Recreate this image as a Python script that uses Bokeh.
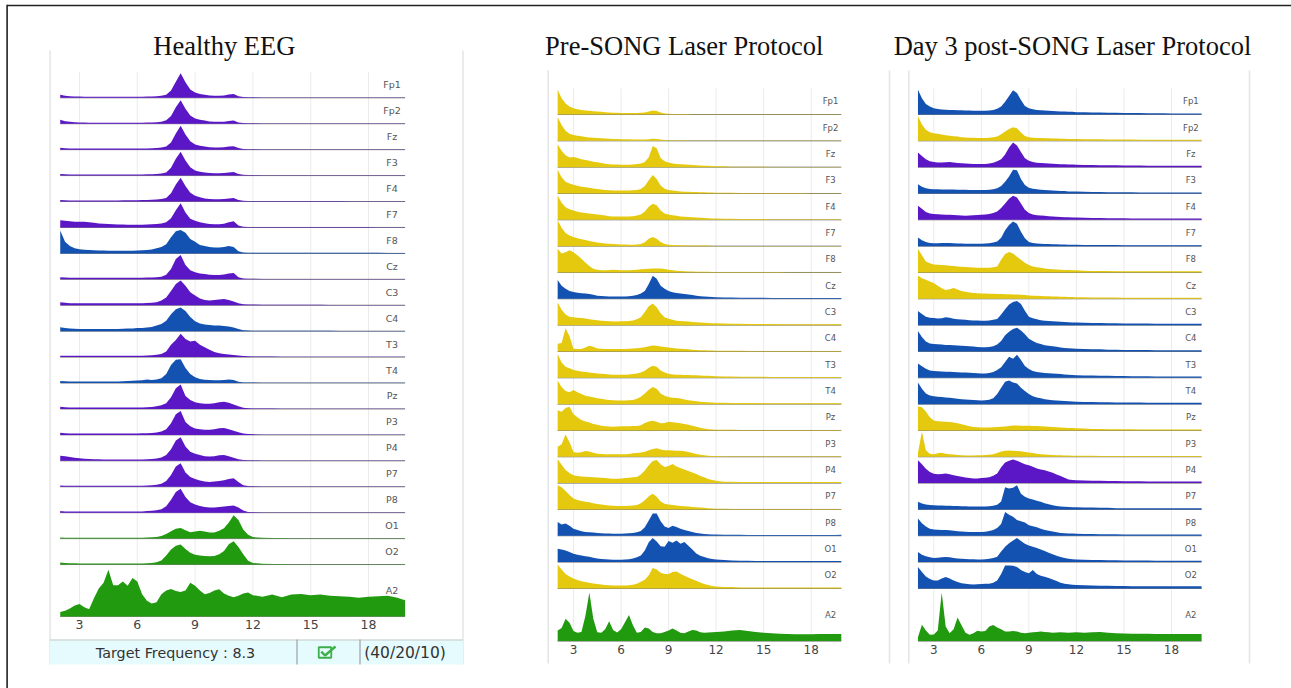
from bokeh.plotting import figure
from bokeh.models import Range1d
from bokeh.core.properties import value
from bokeh.embed import file_html
from bokeh.resources import INLINE

# ---------------- data ----------------
FREQ = [2.0, 2.25, 2.5, 2.75, 3.0, 3.25, 3.5, 3.75, 4.0, 4.25, 4.5, 4.75, 5.0, 5.25, 5.5, 5.75,
        6.0, 6.25, 6.5, 6.75, 7.0, 7.25, 7.5, 7.75, 8.0, 8.25, 8.5, 8.75, 9.0, 9.25, 9.5, 9.75,
        10.0, 10.25, 10.5, 10.75, 11.0, 11.25, 11.5, 11.75, 12.0,
        12.5, 13.0, 13.5, 14.0, 14.5, 15.0, 15.5, 16.0, 16.5, 17.0, 17.5, 18.0, 18.5, 19.0, 19.5, 19.9]
TICKS = [3, 6, 9, 12, 15, 18]
TICK_LABELS = ["3", "6", "9", "12", "15", "18"]
CHANNELS = ["Fp1", "Fp2", "Fz", "F3", "F4", "F7", "F8", "Cz", "C3", "C4", "T3", "T4",
            "Pz", "P3", "P4", "P7", "P8", "O1", "O2", "A2"]
TITLES = ["Healthy EEG", "Pre-SONG Laser Protocol", "Day 3 post-SONG Laser Protocol"]
TARGET_TEXT = "Target Frequency : 8.3"
SETTING_TEXT = "(40/20/10)"

# relative power, % of one row height
H_FP1 = [12, 8, 6, 5, 5, 4, 4, 4, 4, 4, 4, 4, 4, 4, 4, 4, 4, 4, 5, 5, 6, 8, 12, 28, 62, 95, 60, 32, 20, 15, 12, 9,
         8, 8, 9, 13, 15, 6, 3, 2, 2, 1, 1, 1, 1, 1, 1, 1, 1, 1, 1, 1, 1, 1, 1, 1, 1]
H_FP2 = [15, 10, 8, 6, 5, 5, 4, 4, 4, 4, 4, 4, 4, 4, 4, 4, 4, 4, 5, 5, 6, 8, 13, 30, 64, 91, 58, 32, 20, 15, 12, 9,
         8, 8, 8, 11, 12, 5, 3, 2, 2, 1, 1, 1, 1, 1, 1, 1, 1, 1, 1, 1, 1, 1, 1, 1, 1]
H_FZ = [7, 5, 4, 4, 4, 4, 4, 4, 4, 4, 4, 4, 4, 4, 4, 4, 4, 4, 4, 5, 6, 8, 12, 28, 62, 92, 58, 32, 20, 15, 12, 9,
        8, 8, 9, 12, 13, 6, 3, 2, 2, 1, 1, 1, 1, 1, 1, 1, 1, 1, 1, 1, 1, 1, 1, 1, 1]
H_F3 = [6, 5, 4, 4, 4, 4, 4, 4, 4, 4, 4, 4, 4, 4, 4, 4, 4, 4, 5, 5, 6, 8, 12, 30, 65, 92, 58, 32, 20, 15, 12, 10,
        9, 9, 10, 12, 14, 6, 3, 2, 2, 1, 1, 1, 1, 1, 1, 1, 1, 1, 1, 1, 1, 1, 1, 1, 1]
H_F4 = [6, 5, 4, 4, 4, 4, 4, 4, 4, 4, 4, 4, 4, 5, 5, 5, 5, 6, 6, 7, 8, 10, 14, 32, 66, 92, 60, 34, 22, 16, 12, 10,
        9, 9, 10, 12, 14, 6, 3, 2, 2, 2, 2, 2, 2, 2, 2, 2, 2, 2, 1, 1, 1, 1, 1, 1, 1]
H_F7 = [28, 26, 24, 22, 22, 22, 20, 18, 15, 14, 13, 12, 11, 11, 10, 10, 10, 10, 11, 12, 13, 15, 20, 35,
        66, 93, 58, 34, 26, 20, 16, 13, 12, 12, 14, 20, 24, 8, 3, 2, 2, 2, 2, 2, 2, 2, 2, 2, 2, 2, 2, 2, 2, 1, 1, 1, 1]
H_F8 = [88, 45, 28, 20, 16, 14, 13, 12, 11, 11, 10, 10, 10, 10, 10, 10, 11, 12, 13, 15, 20, 25, 35, 62,
        85, 90, 80, 55, 45, 32, 28, 25, 23, 23, 25, 28, 25, 8, 3, 2, 2, 2, 2, 2, 2, 2, 2, 2, 2, 2, 2, 2, 2, 2, 1, 1, 1]
H_CZ = [8, 7, 6, 6, 6, 6, 6, 6, 6, 6, 6, 6, 6, 6, 6, 6, 6, 6, 7, 7, 8, 10, 18, 40, 78, 94, 55, 35, 27, 22, 20, 18,
        17, 17, 19, 22, 24, 8, 3, 2, 2, 1, 1, 1, 1, 1, 1, 1, 1, 1, 1, 1, 1, 1, 1, 1, 1]
H_C3 = [12, 10, 8, 8, 8, 8, 8, 8, 8, 8, 8, 8, 8, 8, 8, 8, 8, 8, 9, 10, 12, 18, 30, 55, 82, 95, 75, 50, 38, 26, 20, 18,
        20, 22, 24, 20, 14, 8, 4, 3, 3, 2, 2, 2, 2, 2, 2, 2, 1, 1, 1, 1, 1, 1, 1, 1, 1]
H_C4 = [15, 12, 10, 9, 8, 8, 8, 8, 8, 8, 8, 8, 8, 9, 10, 10, 12, 12, 14, 16, 22, 28, 40, 65, 85, 91, 78, 55, 38, 30, 26, 24,
        22, 22, 20, 18, 14, 8, 4, 3, 2, 2, 2, 2, 2, 2, 2, 2, 2, 1, 1, 1, 1, 1, 1, 1, 1]
H_T3 = [5, 5, 5, 5, 5, 5, 5, 5, 5, 5, 5, 5, 5, 5, 5, 5, 5, 5, 6, 7, 9, 12, 22, 48, 66, 90, 70, 60, 63, 48, 38, 28,
        20, 15, 12, 10, 8, 6, 4, 3, 2, 2, 2, 1, 1, 1, 1, 1, 1, 1, 1, 1, 1, 1, 1, 1, 1]
H_T4 = [8, 7, 6, 6, 6, 6, 6, 6, 6, 6, 6, 6, 6, 7, 8, 9, 10, 11, 14, 12, 14, 18, 35, 70, 90, 92, 58, 35, 22, 16, 13, 12,
        11, 11, 12, 14, 12, 5, 2, 2, 2, 1, 1, 1, 1, 1, 1, 1, 1, 1, 1, 1, 1, 1, 1, 1, 1]
H_PZ = [9, 7, 6, 6, 6, 6, 6, 6, 6, 6, 6, 6, 6, 6, 6, 6, 6, 6, 7, 8, 10, 14, 22, 45, 80, 94, 50, 35, 26, 22, 20, 20,
        22, 26, 28, 24, 17, 10, 5, 3, 2, 2, 2, 1, 1, 1, 1, 1, 1, 1, 1, 1, 1, 1, 1, 1, 1]
H_P3 = [8, 6, 5, 5, 5, 5, 5, 5, 5, 5, 5, 5, 5, 5, 5, 5, 5, 6, 6, 7, 9, 13, 22, 45, 80, 92, 50, 33, 25, 22, 20, 20,
        22, 26, 27, 22, 16, 10, 5, 3, 2, 1, 1, 1, 1, 1, 1, 1, 1, 1, 1, 1, 1, 1, 1, 1, 1]
H_P4 = [20, 18, 15, 12, 10, 8, 7, 6, 6, 5, 5, 5, 5, 5, 5, 5, 5, 5, 6, 7, 9, 13, 22, 45, 78, 91, 55, 35, 27, 22, 18, 17,
        18, 21, 22, 18, 12, 6, 3, 2, 2, 1, 1, 1, 1, 1, 1, 1, 1, 1, 1, 1, 1, 1, 1, 1, 1]
H_P7 = [5, 4, 4, 4, 4, 4, 4, 4, 4, 4, 4, 4, 4, 4, 4, 4, 4, 4, 5, 6, 8, 12, 22, 45, 78, 91, 55, 38, 30, 24, 20, 18,
        20, 22, 25, 30, 33, 18, 6, 3, 2, 1, 1, 1, 1, 1, 1, 1, 1, 1, 1, 1, 1, 1, 1, 1, 1]
H_P8 = [6, 5, 5, 5, 5, 5, 5, 5, 5, 5, 5, 5, 5, 5, 5, 5, 5, 5, 6, 7, 9, 13, 25, 50, 80, 92, 60, 40, 32, 26, 22, 20,
        20, 22, 24, 26, 28, 20, 8, 3, 2, 1, 1, 1, 1, 1, 1, 1, 1, 1, 1, 1, 1, 1, 1, 1, 1]
H_O1 = [4, 3, 3, 3, 3, 3, 3, 3, 3, 3, 3, 3, 3, 3, 3, 3, 3, 3, 4, 5, 6, 10, 18, 28, 38, 41, 32, 25, 27, 30, 27, 24,
        24, 30, 40, 62, 90, 72, 35, 15, 6, 3, 2, 2, 1, 1, 1, 1, 1, 1, 1, 1, 1, 1, 1, 1, 1]
H_O2 = [8, 6, 5, 5, 4, 4, 4, 4, 4, 4, 4, 4, 4, 4, 4, 4, 4, 4, 5, 6, 9, 16, 35, 58, 72, 77, 60, 45, 38, 35, 33, 32,
        33, 40, 52, 78, 90, 68, 40, 15, 6, 3, 2, 2, 1, 1, 1, 1, 1, 1, 1, 1, 1, 1, 1, 1, 1]
H_A2 = [17, 22, 30, 42, 48, 35, 28, 70, 108, 130, 180, 120, 120, 135, 118, 148, 135, 85, 60, 50, 55, 85, 100, 106,
        98, 94, 100, 130, 118, 100, 85, 90, 100, 105, 88, 80, 74, 80, 88, 92, 82,
        76, 84, 74, 84, 86, 82, 84, 80, 78, 76, 72, 76, 78, 80, 72, 62]

P_FP1 = [94, 62, 42, 30, 24, 20, 17, 15, 14, 12, 11, 10, 9, 8, 7, 7, 6, 6, 6, 6, 6, 7, 8, 11, 15, 13, 8, 4, 3, 2, 2, 2,
         2, 2, 1, 1, 1, 1, 1, 1, 1, 1, 1, 1, 1, 1, 1, 1, 1, 1, 1, 1, 1, 1, 1, 1, 1]
P_FP2 = [90, 60, 38, 27, 22, 19, 17, 15, 13, 12, 11, 10, 9, 8, 7, 7, 6, 6, 6, 5, 5, 5, 5, 6, 8, 7, 5, 3, 2, 2, 2, 2,
         2, 1, 1, 1, 1, 1, 1, 1, 1, 1, 1, 1, 1, 1, 1, 1, 1, 1, 1, 1, 1, 1, 1, 1, 1]
P_FZ = [87, 62, 45, 37, 39, 35, 30, 27, 24, 21, 19, 16, 13, 11, 10, 10, 9, 9, 9, 10, 12, 14, 20, 38, 80, 72, 35, 22, 18, 14, 12, 11,
        10, 9, 8, 7, 6, 5, 5, 4, 3, 3, 2, 2, 2, 2, 2, 1, 1, 1, 1, 1, 1, 1, 1, 1, 1]
P_F3 = [90, 62, 45, 38, 33, 29, 26, 24, 22, 19, 17, 15, 13, 12, 11, 11, 11, 11, 11, 12, 13, 17, 28, 50, 70, 55, 30, 18, 13, 11, 9, 8,
        7, 7, 6, 6, 5, 5, 4, 4, 3, 3, 3, 2, 2, 2, 2, 2, 2, 2, 2, 2, 1, 1, 1, 1, 1]
P_F4 = [92, 65, 48, 40, 35, 31, 28, 26, 24, 22, 20, 18, 16, 14, 13, 13, 13, 13, 13, 14, 16, 20, 32, 50, 61, 55, 35, 24, 20, 17, 15, 13,
        12, 11, 10, 9, 8, 7, 6, 5, 5, 4, 4, 3, 3, 3, 3, 2, 2, 2, 2, 2, 2, 2, 2, 2, 2]
P_F7 = [98, 70, 50, 40, 35, 30, 26, 23, 20, 17, 14, 12, 10, 9, 8, 7, 6, 6, 5, 5, 6, 8, 15, 28, 35, 28, 16, 8, 5, 4, 3, 3,
        2, 2, 2, 2, 2, 2, 2, 1, 1, 1, 1, 1, 1, 1, 1, 1, 1, 1, 1, 1, 1, 1, 1, 1, 1]
P_F8 = [90, 72, 77, 84, 77, 65, 52, 38, 25, 14, 10, 8, 8, 9, 10, 9, 8, 8, 8, 9, 10, 12, 13, 14, 15, 15, 15, 13, 10, 8, 7, 6,
        5, 4, 4, 3, 3, 3, 3, 2, 2, 2, 2, 2, 2, 2, 2, 2, 2, 1, 1, 1, 1, 1, 1, 1, 1]
P_CZ = [71, 50, 38, 30, 26, 23, 21, 20, 18, 15, 12, 11, 10, 9, 9, 9, 9, 9, 10, 12, 14, 20, 30, 56, 88, 76, 50, 38, 30, 25, 22, 20,
        18, 16, 14, 12, 10, 9, 8, 7, 6, 5, 5, 4, 4, 4, 4, 3, 3, 3, 3, 3, 3, 3, 3, 3, 3]
P_C3 = [86, 58, 40, 32, 30, 28, 27, 25, 22, 20, 19, 17, 16, 15, 14, 14, 15, 15, 16, 18, 22, 30, 50, 72, 82, 68, 45, 30, 24, 20, 17, 16,
        15, 14, 12, 11, 10, 9, 8, 7, 7, 6, 5, 5, 4, 4, 4, 4, 3, 3, 3, 3, 3, 3, 3, 3, 3]
P_C4 = [29, 32, 88, 58, 10, 9, 9, 15, 22, 18, 11, 10, 9, 9, 9, 9, 9, 9, 10, 11, 12, 14, 16, 20, 23, 22, 19, 17, 15, 13, 11, 10,
        9, 8, 7, 6, 5, 5, 4, 4, 3, 3, 3, 3, 2, 2, 2, 2, 2, 2, 2, 2, 2, 2, 2, 2, 2]
P_T3 = [90, 58, 42, 36, 30, 27, 24, 22, 20, 18, 16, 15, 14, 13, 12, 12, 12, 12, 13, 14, 16, 20, 27, 38, 46, 42, 28, 20, 15, 13, 12, 12,
        11, 11, 10, 10, 9, 8, 8, 7, 6, 5, 5, 4, 4, 4, 4, 3, 3, 3, 3, 3, 3, 3, 3, 3, 3]
P_T4 = [90, 65, 50, 45, 54, 45, 38, 32, 29, 26, 22, 20, 18, 16, 15, 14, 14, 14, 15, 16, 20, 28, 40, 55, 65, 58, 40, 32, 27, 24, 23, 21,
        18, 15, 13, 11, 9, 8, 7, 6, 5, 5, 4, 4, 4, 4, 3, 3, 3, 3, 3, 3, 3, 3, 3, 3, 3]
P_PZ = [77, 71, 85, 90, 62, 50, 40, 34, 30, 25, 22, 18, 16, 15, 14, 15, 16, 16, 16, 17, 17, 20, 28, 34, 37, 33, 27, 28, 33, 31, 29, 27,
        25, 22, 18, 14, 10, 7, 5, 4, 3, 3, 3, 2, 2, 2, 2, 2, 2, 2, 2, 2, 2, 2, 2, 2, 2]
P_P3 = [38, 48, 85, 55, 18, 15, 17, 22, 20, 15, 12, 11, 10, 10, 10, 10, 10, 10, 11, 13, 14, 16, 19, 25, 30, 32, 28, 25, 25, 24, 23, 23,
        21, 18, 14, 11, 8, 6, 4, 3, 3, 2, 2, 2, 2, 2, 2, 2, 2, 2, 2, 2, 2, 2, 2, 2, 2]
P_P4 = [92, 70, 50, 38, 30, 27, 25, 24, 23, 22, 21, 20, 19, 18, 17, 17, 18, 19, 20, 22, 23, 33, 48, 68, 84, 88, 72, 61, 65, 73, 63, 57,
        52, 46, 40, 35, 27, 22, 16, 12, 9, 5, 5, 4, 4, 4, 4, 4, 4, 4, 4, 4, 4, 4, 4, 4, 4]
P_P7 = [92, 84, 70, 55, 42, 36, 32, 29, 27, 24, 21, 19, 17, 15, 14, 13, 13, 13, 14, 15, 17, 24, 35, 50, 60, 48, 30, 22, 19, 17, 15, 13,
        12, 11, 9, 8, 7, 6, 5, 4, 3, 3, 2, 2, 2, 2, 2, 2, 2, 2, 2, 2, 2, 2, 2, 2, 2]
P_P8 = [52, 43, 47, 38, 27, 22, 17, 14, 13, 12, 11, 10, 9, 9, 8, 8, 8, 9, 10, 11, 13, 18, 32, 58, 85, 85, 55, 35, 30, 38, 33, 27,
        22, 18, 14, 11, 9, 7, 6, 5, 5, 4, 4, 4, 3, 3, 3, 3, 3, 3, 3, 3, 3, 3, 3, 3, 4]
P_O1 = [51, 48, 44, 38, 32, 28, 25, 22, 20, 17, 14, 12, 11, 10, 9, 9, 9, 10, 11, 14, 18, 25, 44, 75, 92, 78, 60, 58, 80, 74, 82, 70,
        76, 62, 48, 33, 24, 19, 15, 12, 10, 8, 6, 5, 5, 4, 4, 4, 4, 4, 4, 4, 4, 4, 4, 4, 4]
P_O2 = [91, 72, 55, 45, 38, 32, 27, 24, 22, 19, 17, 15, 13, 12, 11, 11, 11, 11, 12, 14, 18, 25, 33, 50, 78, 72, 60, 55, 55, 62, 64, 56,
        48, 42, 35, 29, 23, 17, 13, 9, 7, 5, 5, 4, 4, 4, 4, 4, 4, 4, 4, 4, 4, 4, 4, 4, 4]
P_A2 = [40, 50, 85, 70, 38, 32, 35, 95, 185, 85, 34, 32, 45, 75, 42, 33, 45, 72, 99, 60, 32, 35, 52, 48, 35, 30, 30, 35, 40, 48, 40, 32,
        30, 36, 42, 40, 34, 32, 33, 34, 35, 36, 40, 42, 38, 35, 32, 30, 28, 27, 26, 26, 26, 27, 27, 27, 27]

D_FP1 = [94, 62, 40, 30, 24, 21, 19, 18, 17, 17, 16, 16, 15, 15, 14, 14, 14, 14, 15, 17, 22, 30, 48, 70, 92, 82, 55, 32, 24, 20, 17, 16,
         15, 14, 13, 12, 11, 11, 10, 10, 9, 9, 8, 8, 7, 7, 6, 6, 6, 5, 5, 5, 4, 4, 4, 4, 4]
D_FP2 = [94, 62, 42, 33, 29, 27, 24, 21, 19, 17, 16, 14, 13, 12, 12, 11, 11, 11, 12, 14, 16, 25, 35, 45, 52, 48, 32, 18, 14, 12, 11, 11,
         10, 10, 9, 9, 8, 8, 7, 7, 7, 6, 6, 6, 5, 5, 5, 5, 4, 4, 4, 4, 4, 4, 4, 4, 4]
D_FZ = [56, 42, 30, 22, 20, 18, 18, 19, 20, 18, 16, 15, 14, 13, 12, 12, 12, 12, 14, 17, 22, 30, 48, 75, 94, 82, 58, 34, 24, 20, 17, 16,
        15, 14, 13, 12, 11, 11, 10, 10, 9, 8, 8, 7, 7, 7, 6, 6, 6, 5, 5, 5, 5, 5, 5, 5, 5]
D_F3 = [35, 26, 20, 17, 16, 16, 15, 15, 15, 15, 14, 14, 14, 13, 13, 13, 13, 13, 14, 16, 20, 28, 45, 65, 90, 88, 55, 32, 22, 18, 16, 14,
        13, 12, 11, 10, 9, 9, 8, 8, 8, 7, 6, 6, 5, 5, 5, 5, 4, 4, 4, 4, 4, 4, 4, 4, 4]
D_F4 = [53, 42, 30, 24, 22, 21, 20, 19, 19, 18, 17, 16, 15, 16, 17, 18, 19, 20, 22, 26, 32, 45, 62, 80, 91, 85, 62, 38, 26, 20, 17, 16,
        15, 14, 13, 12, 11, 10, 10, 9, 9, 8, 7, 7, 6, 6, 6, 5, 5, 5, 5, 5, 5, 5, 5, 5, 5]
D_F7 = [33, 22, 16, 12, 11, 11, 12, 12, 12, 11, 10, 10, 9, 9, 9, 9, 9, 10, 11, 14, 18, 32, 60, 80, 94, 85, 55, 30, 16, 12, 10, 9,
        8, 8, 7, 7, 6, 6, 5, 5, 5, 4, 4, 4, 4, 4, 3, 3, 3, 3, 3, 3, 3, 3, 3, 3, 3]
D_F8 = [90, 65, 42, 35, 30, 29, 28, 27, 26, 25, 23, 22, 21, 20, 19, 18, 18, 18, 18, 20, 23, 48, 70, 78, 72, 60, 48, 37, 28, 23, 20, 18,
        15, 13, 12, 11, 10, 9, 9, 8, 8, 7, 6, 6, 6, 5, 5, 5, 5, 5, 5, 5, 5, 5, 5, 5, 5]
D_CZ = [89, 78, 72, 66, 60, 50, 40, 33, 36, 41, 35, 30, 27, 24, 22, 21, 20, 20, 19, 19, 18, 18, 17, 17, 16, 16, 15, 14, 13, 12, 12, 11,
        10, 10, 9, 9, 8, 8, 7, 7, 6, 6, 5, 5, 5, 5, 4, 4, 4, 4, 4, 4, 4, 4, 4, 4, 4]
D_C3 = [54, 42, 32, 28, 27, 25, 26, 30, 28, 24, 22, 21, 20, 19, 18, 18, 17, 17, 18, 20, 23, 40, 60, 78, 88, 92, 80, 55, 32, 26, 22, 19,
        17, 16, 15, 14, 13, 12, 11, 10, 10, 9, 8, 8, 7, 7, 6, 6, 6, 6, 5, 5, 5, 5, 5, 5, 5]
D_C4 = [78, 55, 38, 30, 28, 27, 26, 25, 25, 24, 23, 22, 21, 20, 19, 17, 16, 16, 17, 20, 26, 40, 62, 75, 85, 90, 80, 65, 48, 40, 32, 28,
        24, 22, 20, 18, 15, 13, 12, 11, 10, 9, 8, 8, 7, 7, 6, 6, 6, 6, 5, 5, 5, 5, 5, 5, 5]
D_T3 = [54, 44, 34, 28, 26, 25, 24, 23, 23, 22, 21, 20, 20, 19, 18, 17, 16, 16, 18, 22, 30, 40, 60, 80, 72, 88, 68, 45, 33, 26, 22, 20,
        18, 17, 16, 15, 14, 13, 12, 11, 10, 9, 9, 8, 8, 7, 7, 6, 6, 6, 5, 5, 5, 5, 5, 5, 5]
D_T4 = [82, 58, 40, 33, 30, 28, 27, 25, 24, 22, 20, 19, 18, 17, 16, 15, 14, 15, 17, 22, 38, 62, 85, 90, 82, 78, 62, 50, 38, 30, 25, 22,
        19, 17, 15, 14, 13, 12, 11, 10, 9, 8, 8, 7, 7, 6, 6, 6, 6, 5, 5, 5, 5, 5, 5, 5, 5]
D_PZ = [91, 88, 72, 50, 38, 35, 34, 33, 32, 30, 27, 24, 20, 16, 13, 12, 11, 11, 11, 12, 13, 14, 15, 17, 19, 19, 18, 18, 18, 17, 17, 16,
        15, 14, 13, 12, 11, 10, 9, 9, 8, 7, 6, 6, 5, 5, 5, 5, 4, 4, 4, 4, 4, 4, 4, 4, 4]
D_P3 = [15, 95, 25, 12, 10, 13, 15, 12, 10, 9, 7, 6, 5, 5, 5, 6, 6, 7, 8, 10, 14, 20, 23, 24, 23, 22, 21, 18, 16, 14, 12, 10,
        9, 8, 7, 6, 6, 5, 5, 4, 4, 4, 4, 3, 3, 3, 3, 3, 3, 3, 3, 3, 3, 3, 3, 3, 3]
D_P4 = [87, 72, 55, 42, 36, 34, 35, 37, 34, 30, 27, 24, 21, 19, 18, 18, 19, 20, 22, 28, 37, 60, 78, 85, 90, 85, 78, 72, 68, 62, 56, 52,
        49, 44, 39, 33, 27, 20, 14, 12, 11, 10, 9, 9, 8, 8, 7, 7, 7, 6, 6, 6, 6, 6, 6, 6, 6]
D_P7 = [29, 23, 19, 17, 16, 15, 15, 14, 14, 13, 13, 12, 12, 11, 11, 11, 11, 11, 12, 14, 18, 30, 84, 80, 82, 92, 60, 48, 42, 38, 33, 29,
        24, 20, 16, 13, 11, 10, 9, 8, 8, 7, 7, 6, 6, 5, 5, 5, 5, 5, 5, 5, 5, 5, 5, 5, 5]
D_P8 = [66, 48, 35, 27, 24, 23, 22, 22, 21, 19, 17, 16, 15, 14, 14, 14, 14, 15, 18, 22, 30, 45, 90, 80, 72, 60, 55, 50, 40, 36, 32, 27,
        22, 19, 16, 13, 11, 10, 9, 9, 8, 7, 7, 6, 6, 6, 5, 5, 5, 5, 5, 5, 5, 5, 5, 5, 5]
D_O1 = [38, 28, 22, 18, 16, 17, 18, 19, 18, 16, 14, 13, 12, 11, 11, 10, 10, 11, 13, 16, 20, 40, 58, 72, 82, 92, 80, 70, 63, 58, 54, 48,
        42, 36, 30, 24, 19, 16, 13, 11, 10, 9, 8, 8, 7, 7, 6, 6, 6, 6, 5, 5, 5, 5, 5, 5, 5]
D_O2 = [81, 62, 45, 36, 30, 30, 38, 43, 38, 30, 24, 20, 18, 16, 15, 16, 17, 18, 18, 22, 30, 55, 87, 87, 86, 81, 70, 62, 58, 70, 55, 48,
        44, 40, 34, 28, 22, 18, 16, 14, 13, 12, 11, 10, 10, 9, 9, 8, 8, 8, 8, 8, 8, 8, 8, 8, 8]
D_A2 = [15, 62, 40, 24, 25, 40, 185, 55, 30, 45, 90, 60, 32, 24, 30, 39, 36, 38, 55, 61, 52, 45, 36, 36, 38, 36, 32, 30, 32, 34, 35, 36,
        35, 34, 32, 33, 34, 33, 32, 33, 34, 32, 34, 35, 32, 30, 29, 28, 28, 28, 27, 27, 27, 27, 27, 27, 27]

HEALTHY = [H_FP1, H_FP2, H_FZ, H_F3, H_F4, H_F7, H_F8, H_CZ, H_C3, H_C4, H_T3, H_T4,
           H_PZ, H_P3, H_P4, H_P7, H_P8, H_O1, H_O2, H_A2]
PRE = [P_FP1, P_FP2, P_FZ, P_F3, P_F4, P_F7, P_F8, P_CZ, P_C3, P_C4, P_T3, P_T4,
       P_PZ, P_P3, P_P4, P_P7, P_P8, P_O1, P_O2, P_A2]
DAY3 = [D_FP1, D_FP2, D_FZ, D_F3, D_F4, D_F7, D_F8, D_CZ, D_C3, D_C4, D_T3, D_T4,
        D_PZ, D_P3, D_P4, D_P7, D_P8, D_O1, D_O2, D_A2]

# ---------------- styles ----------------
PURPLE, BLUE, YELLOW, GREEN = "#5b16c6", "#1452b2", "#e5c90f", "#229a10"
HEALTHY_COLORS = [PURPLE, PURPLE, PURPLE, PURPLE, PURPLE, PURPLE, BLUE, PURPLE, PURPLE, BLUE, PURPLE, BLUE,
                  PURPLE, PURPLE, PURPLE, PURPLE, PURPLE, GREEN, GREEN, GREEN]
PRE_COLORS = [YELLOW, YELLOW, YELLOW, YELLOW, YELLOW, YELLOW, YELLOW, BLUE, YELLOW, YELLOW, YELLOW, YELLOW,
              YELLOW, YELLOW, YELLOW, YELLOW, BLUE, BLUE, YELLOW, GREEN]
DAY3_COLORS = [BLUE, YELLOW, PURPLE, BLUE, PURPLE, BLUE, YELLOW, YELLOW, BLUE, BLUE, BLUE, BLUE,
               YELLOW, YELLOW, PURPLE, BLUE, BLUE, BLUE, BLUE, GREEN]

for name, group in (("HEALTHY", HEALTHY), ("PRE", PRE), ("DAY3", DAY3)):
    for ch, vals in zip(CHANNELS, group):
        if len(vals) != len(FREQ):
            raise ValueError(f"{name} {ch}: {len(vals)} values, expected {len(FREQ)}")

# ---------------- layout (page pixels; canvas sits at the page origin) ----------------
X0, Y0 = 0, 0
W, H = 1291, 688

GEOM = {
    "H": dict(tick3=79.0, tick18=368.0, top_base=97.3, pitch=25.93,
              label_size="9.5px", tick_size="12.5px", tick_u=-0.30, a2_label_u=0.98),
    "P": dict(tick3=573.0, tick18=810.7, top_base=114.0, pitch=26.33,
              label_size="8.5px", tick_size="12px", tick_u=-0.32, a2_label_u=1.0),
    "D": dict(tick3=933.3, tick18=1171.0, top_base=114.0, pitch=26.33,
              label_size="8.5px", tick_size="12px", tick_u=-0.32, a2_label_u=1.0),
}
ROWS = [20 - k for k in range(19)] + [0]

p = figure(width=W, height=H, x_range=Range1d(X0, X0 + W), y_range=Range1d(Y0 + H, Y0),
           output_backend="svg", toolbar_location=None, min_border=0,
           x_axis_location=None, y_axis_location=None, outline_line_color=None,
           background_fill_color="white", border_fill_color="white")
p.grid.visible = False

xr_dict, yr_dict = {}, {}
for key, g in GEOM.items():
    k = (g["tick18"] - g["tick3"]) / 15.0
    xr_dict["f" + key] = Range1d(3 + (X0 - g["tick3"]) / k, 3 + (X0 + W - g["tick3"]) / k)
    a2 = g["top_base"] + 20 * g["pitch"]
    yr_dict["r" + key] = Range1d((a2 - (Y0 + H)) / g["pitch"], (a2 - Y0) / g["pitch"])
p.extra_x_ranges = xr_dict
p.extra_y_ranges = yr_dict

# outer black frame (top / left)
p.line(x=[6.6, 6.6], y=[4.3, Y0 + H], line_color="#222222", line_width=1.6)
p.line(x=[6.6, X0 + W], y=[5.0, 5.0], line_color="#222222", line_width=1.6)

# panel side lines
p.segment(x0=[49.5, 462.5], y0=[50, 50], x1=[49.5, 462.5], y1=[664, 664], line_color="#e2e4e6", line_width=1.5)
p.segment(x0=[547.7, 889.0, 908.3, 1249.0], y0=[70, 70, 70, 70], x1=[547.7, 889.0, 908.3, 1249.0],
          y1=[663, 663, 663, 663], line_color="#e2e4e6", line_width=1.5)

# titles
p.text(x=[223.8, 683.7, 1072.0], y=[45.5, 45.5, 45.5], text=TITLES, text_align="center",
       text_baseline="alphabetic", text_font=value("Liberation Serif"), text_font_size=value("26.5px"),
       text_color="#111111")


def draw_panel(key, data, colors):
    g = GEOM[key]
    xr, yr = "f" + key, "r" + key
    n = len(FREQ)
    p.segment(x0=TICKS, y0=[0] * len(TICKS), x1=TICKS, y1=[21] * len(TICKS),
              line_color="#ebebeb", line_width=1, x_range_name=xr, y_range_name=yr)
    p.segment(x0=[FREQ[0]] * len(ROWS), y0=ROWS, x1=[FREQ[-1]] * len(ROWS), y1=ROWS,
              line_color="#7a7a7a", line_width=1, x_range_name=xr, y_range_name=yr)
    for vals, col, base in zip(data, colors, ROWS):
        p.varea(x=FREQ, y1=[base] * n, y2=[base + v / 100.0 for v in vals],
                fill_color=col, x_range_name=xr, y_range_name=yr)
    label_y = [b + 0.5 for b in ROWS[:-1]] + [g["a2_label_u"]]
    p.text(x=[19.22] * len(CHANNELS), y=label_y, text=CHANNELS, text_align="center",
           text_baseline="middle", text_font=value("DejaVu Sans"), text_font_size=value(g["label_size"]),
           text_color="#555555", x_range_name=xr, y_range_name=yr)
    p.text(x=TICKS, y=[g["tick_u"]] * len(TICKS), text=TICK_LABELS, text_align="center",
           text_baseline="middle", text_font=value("DejaVu Sans"), text_font_size=value(g["tick_size"]),
           text_color="#444444", x_range_name=xr, y_range_name=yr)


draw_panel("H", HEALTHY, HEALTHY_COLORS)
draw_panel("P", PRE, PRE_COLORS)
draw_panel("D", DAY3, DAY3_COLORS)

# status bar under the healthy panel
p.quad(left=[49.5], right=[462.5], top=[639], bottom=[664], fill_color="#e6fbfd", line_color=None)
p.line(x=[49.5, 462.5], y=[639.5, 639.5], line_color="#c8c8c8", line_width=1.2)
p.segment(x0=[296.5, 359.5], y0=[639, 639], x1=[296.5, 359.5], y1=[664, 664], line_color="#a0a0a0", line_width=1.2)
p.text(x=[175], y=[652.5], text=[TARGET_TEXT], text_align="center", text_baseline="middle",
       text_font=value("DejaVu Sans"), text_font_size=value("14.3px"), text_color="#333333")
p.text(x=[404.5], y=[652.5], text=[SETTING_TEXT], text_align="center", text_baseline="middle",
       text_font=value("DejaVu Sans"), text_font_size=value("15.5px"), text_color="#333333")
p.rect(x=[324.5], y=[652], width=[12.5], height=[10.5], fill_color=None, line_color="#3daf4a", line_width=1.8)
p.line(x=[320.8, 324.5, 335.0], y=[651.2, 655.0, 646.0], line_color="#3daf4a", line_width=2.4)

open("out.html", "w").write(file_html(p, INLINE))
